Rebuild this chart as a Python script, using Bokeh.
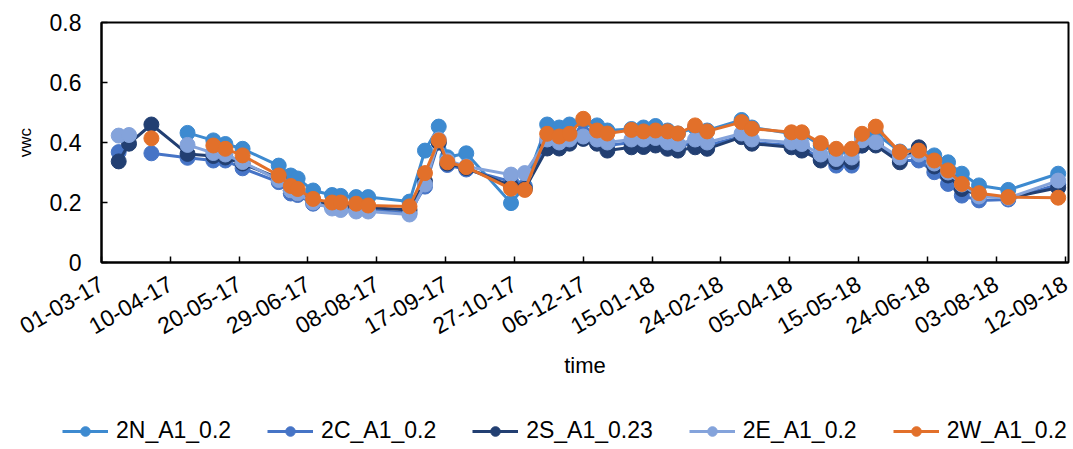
from datetime import timedelta
import pandas as pd
from bokeh.plotting import figure
from bokeh.layouts import column, row
from bokeh.models import (ColumnDataSource, Range1d, FixedTicker, DatetimeTickFormatter,
                          Legend, LegendItem, CustomJSTickFormatter)
from bokeh.embed import file_html
from bokeh.resources import INLINE

nan = float("nan")

dates = ["2017-03-11", "2017-03-17", "2017-03-30", "2017-04-20", "2017-05-05", "2017-05-12",
         "2017-05-22", "2017-06-12", "2017-06-19", "2017-06-23", "2017-07-02", "2017-07-13",
         "2017-07-18", "2017-07-27", "2017-08-03", "2017-08-27", "2017-09-05", "2017-09-13",
         "2017-09-18", "2017-09-29", "2017-10-25", "2017-11-02", "2017-11-15", "2017-11-22",
         "2017-11-28", "2017-12-06", "2017-12-14", "2017-12-20", "2018-01-03", "2018-01-10",
         "2018-01-17", "2018-01-24", "2018-01-30", "2018-02-09", "2018-02-16", "2018-03-08",
         "2018-03-14", "2018-04-06", "2018-04-12", "2018-04-23", "2018-05-02", "2018-05-11",
         "2018-05-17", "2018-05-25", "2018-06-08", "2018-06-19", "2018-06-28", "2018-07-06",
         "2018-07-14", "2018-07-24", "2018-08-10", "2018-09-08"]

vwc_2N = [nan, nan, nan, 0.432, 0.407, 0.395, 0.379, 0.323, 0.290, 0.280, 0.240, 0.225,
          0.222, 0.218, 0.218, 0.203, 0.373, 0.453, 0.351, 0.364, 0.198, 0.255, 0.460, 0.450,
          0.460, 0.470, 0.457, 0.440, 0.445, 0.450, 0.455, 0.440, 0.430, 0.450, 0.440, 0.475,
          0.450, 0.430, 0.430, 0.390, 0.370, 0.370, 0.420, 0.430, 0.370, 0.380, 0.357, 0.334,
          0.296, 0.257, 0.242, 0.296]
vwc_2C = [0.368, nan, 0.364, 0.349, 0.340, 0.340, 0.314, 0.268, 0.230, 0.225, 0.196, 0.185,
          0.180, 0.175, 0.175, 0.165, 0.253, 0.400, 0.325, 0.310, 0.270, 0.250, 0.400, 0.390,
          0.400, 0.430, 0.400, 0.390, 0.400, 0.395, 0.400, 0.390, 0.385, 0.400, 0.390, 0.420,
          0.400, 0.390, 0.385, 0.345, 0.323, 0.323, 0.390, 0.400, 0.340, 0.340, 0.301, 0.262,
          0.223, 0.207, 0.210, 0.260]
vwc_2S = [0.337, 0.396, 0.460, 0.362, 0.355, 0.350, 0.330, 0.280, 0.240, 0.230, 0.205, 0.190,
          0.188, 0.185, 0.183, 0.175, 0.270, 0.400, 0.330, 0.315, 0.255, 0.245, 0.380, 0.380,
          0.396, 0.412, 0.396, 0.373, 0.384, 0.385, 0.390, 0.379, 0.373, 0.384, 0.379, 0.418,
          0.396, 0.384, 0.373, 0.340, 0.335, 0.335, 0.390, 0.390, 0.334, 0.384, 0.320, 0.290,
          0.245, 0.225, 0.215, 0.249]
vwc_2E = [0.423, 0.425, nan, 0.392, 0.365, 0.360, 0.335, 0.275, 0.240, 0.230, 0.200, 0.180,
          0.175, 0.170, 0.170, 0.160, 0.260, 0.410, 0.340, 0.320, 0.293, 0.298, 0.410, 0.400,
          0.410, 0.420, 0.410, 0.400, 0.410, 0.410, 0.415, 0.400, 0.395, 0.410, 0.400, 0.430,
          0.410, 0.400, 0.395, 0.360, 0.345, 0.350, 0.407, 0.401, 0.350, 0.360, 0.330, 0.300,
          0.260, 0.220, 0.215, 0.273]
vwc_2W = [nan, nan, 0.414, nan, 0.390, 0.379, 0.357, 0.290, 0.255, 0.245, 0.212, 0.200,
          0.200, 0.196, 0.190, 0.187, 0.298, 0.407, 0.334, 0.318, 0.246, 0.242, 0.429, 0.420,
          0.429, 0.479, 0.440, 0.430, 0.442, 0.437, 0.440, 0.437, 0.430, 0.457, 0.437, 0.468,
          0.446, 0.434, 0.434, 0.398, 0.379, 0.379, 0.429, 0.453, 0.368, 0.373, 0.340, 0.307,
          0.262, 0.231, 0.218, 0.216]

series_names = ["2N_A1_0.2", "2C_A1_0.2", "2S_A1_0.23", "2E_A1_0.2", "2W_A1_0.2"]
series_values = [vwc_2N, vwc_2C, vwc_2S, vwc_2E, vwc_2W]
series_colors = ["#3D8AD0", "#4674C6", "#223F72", "#84A3DB", "#E2702A"]

x_tick_labels = ["01-03-17", "10-04-17", "20-05-17", "29-06-17", "08-08-17", "17-09-17",
                 "27-10-17", "06-12-17", "15-01-18", "24-02-18", "05-04-18", "15-05-18",
                 "24-06-18", "03-08-18", "12-09-18"]
y_ticks = [0, 0.2, 0.4, 0.6, 0.8]

x_dates = pd.to_datetime(dates)
tick_dates = pd.to_datetime(x_tick_labels, format="%d-%m-%y")
tick_ms = [t.value / 1e6 for t in tick_dates]

FONT = "Liberation Sans"
W = 1072
H_MAIN = 404
H_LEG = 44

p = figure(width=W, height=H_MAIN, x_axis_type="datetime", output_backend="svg",
           toolbar_location=None, min_border_left=101, min_border_right=4,
           min_border_top=22, min_border_bottom=H_MAIN - 262)
p.x_range = Range1d(start=tick_dates[0], end=tick_dates[-1] + timedelta(days=2))
p.y_range = Range1d(start=0, end=0.8)

# legend strip below the chart (same series, shown only through the legend)
q = figure(width=W, height=H_LEG, output_backend="svg", toolbar_location=None,
           x_axis_location=None, y_axis_location=None, min_border=0,
           x_range=p.x_range, y_range=Range1d(5, 6))
q.outline_line_color = None
q.xgrid.grid_line_color = None
q.ygrid.grid_line_color = None

items = []
for name, vals, col in zip(series_names, series_values, series_colors):
    src = ColumnDataSource(dict(x=x_dates, y=vals))
    p.line("x", "y", source=src, line_color=col, line_width=3)
    p.scatter("x", "y", source=src, size=15, fill_color=col, line_color=col)
    lq = q.line("x", "y", source=src, line_color=col, line_width=3)
    sq = q.scatter("x", "y", source=src, size=12, fill_color=col, line_color=col)
    items.append(LegendItem(label=name, renderers=[lq, sq]))

p.xgrid.grid_line_color = None
p.ygrid.grid_line_color = None
p.outline_line_color = "black"
p.outline_line_width = 2

xa = p.xaxis[0]
xa.ticker = FixedTicker(ticks=tick_ms)
fmt = "%d-%m-%y"
xa.formatter = DatetimeTickFormatter(days=fmt, months=fmt, years=fmt, hours=fmt,
                                     minutes=fmt, seconds=fmt, milliseconds=fmt,
                                     microseconds=fmt, minsec=fmt, hourmin=fmt)
xa.major_label_orientation = 0.52
xa.major_label_standoff = 19
xa.axis_label = "time"
xa.axis_label_standoff = 8
xa.axis_label_text_font_style = "normal"

ya = p.yaxis[0]
ya.ticker = FixedTicker(ticks=y_ticks)
ya.formatter = CustomJSTickFormatter(code="return tick == 0 ? '0' : tick.toFixed(1);")
ya.major_label_standoff = 20
ya.axis_label = "vwc"
ya.axis_label_standoff = 12
ya.axis_label_text_font_style = "normal"
ya.axis_label_text_font_size = "17px"

for ax in (xa, ya):
    ax.axis_line_color = "black"
    ax.axis_line_width = 2
    ax.major_tick_in = 6
    ax.major_tick_out = 0
    ax.major_tick_line_color = "black"
    ax.major_tick_line_width = 1.5
    ax.minor_tick_line_color = None
    ax.major_label_text_font = FONT
    ax.major_label_text_font_size = "23px"
    ax.major_label_text_color = "black"
    ax.axis_label_text_font = FONT
    ax.axis_label_text_color = "black"
xa.axis_label_text_font_size = "22px"

legend = Legend(items=items, orientation="horizontal", location=(62, 4),
                glyph_width=46, glyph_height=24, label_standoff=8, spacing=36,
                padding=0, margin=0, border_line_color=None, background_fill_alpha=0,
                label_text_font=FONT, label_text_font_size="23px", label_text_color="black")
q.add_layout(legend, "center")

layout = column(p, row(q), spacing=0)
open("out.html", "w").write(file_html(layout, INLINE))
